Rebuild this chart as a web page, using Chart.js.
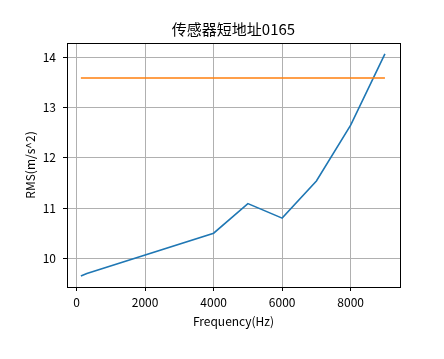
<!DOCTYPE html>
<html lang="zh">
<head>
  <meta charset="UTF-8">
  <title>传感器短地址0165</title>
  <script src="https://cdn.jsdelivr.net/npm/chart.js@4/dist/chart.umd.min.js"></script>
  <style>
    body { margin: 0; background: #fff; }
  </style>
</head>
<body>
<canvas id="rmsChart" width="444" height="359"></canvas>
<script>
  // values
  const freq = [125, 300, 4000, 5000, 6000, 7000, 8000, 9000];
  const rms = [9.65, 9.70, 10.50, 11.09, 10.80, 11.54, 12.65, 14.07];
  const limitFreq = [125, 9000];
  const limitRms = [13.59, 13.59];
  const xTicks = [0, 2000, 4000, 6000, 8000];
  const yTicks = [10, 11, 12, 13, 14];

  const fontFamily = "'Noto Sans CJK SC', 'DejaVu Sans', sans-serif";

  // matplotlib-like box around the plot area
  const frame = {
    id: 'frame',
    afterDatasetsDraw(chart) {
      const a = chart.chartArea;
      const ctx = chart.ctx;
      ctx.save();
      ctx.strokeStyle = '#000';
      ctx.lineWidth = 1;
      ctx.strokeRect(Math.round(a.left) + 0.5, Math.round(a.top) + 0.5,
        Math.round(a.right - a.left), Math.round(a.bottom - a.top));
      ctx.restore();
    }
  };

  new Chart('rmsChart', {
    type: 'line',
    data: {
      datasets: [
        {
          data: freq.map((f, i) => ({ x: f, y: rms[i] })),
          borderColor: '#1f77b4',
          borderWidth: 1.6,
          pointRadius: 0,
          tension: 0,
          order: 2
        },
        {
          data: limitFreq.map((f, i) => ({ x: f, y: limitRms[i] })),
          borderColor: '#ff7f0e',
          borderWidth: 1.6,
          pointRadius: 0,
          order: 1
        }
      ]
    },
    options: {
      responsive: false,
      animation: false,
      layout: { padding: { left: 23, right: 0, top: 0, bottom: 0 } },
      plugins: {
        legend: { display: false },
        tooltip: { enabled: false },
        title: {
          display: true,
          text: '传感器短地址0165',
          color: '#000',
          font: { family: fontFamily, size: 15, weight: 'normal', lineHeight: 1.2 },
          padding: { top: 20, bottom: 5 }
        }
      },
      scales: {
        x: {
          type: 'linear',
          min: -280,
          max: 9440,
          afterFit(scale) { scale.height = 72; },
          afterBuildTicks(scale) { scale.ticks = xTicks.map(v => ({ value: v })); },
          grid: { color: '#b0b0b0', lineWidth: 1, tickColor: '#000', tickLength: 4 },
          border: { display: true, color: '#000', width: 1 },
          ticks: {
            color: '#000',
            padding: 4,
            maxRotation: 0,
            font: { family: fontFamily, size: 12 },
            callback: v => String(v)
          },
          title: {
            display: true,
            text: 'Frequency(Hz)',
            color: '#000',
            font: { family: fontFamily, size: 12, lineHeight: 1.2 },
            padding: { top: 0, bottom: 30 }
          }
        },
        y: {
          type: 'linear',
          min: 9.43,
          max: 14.285,
          afterFit(scale) { scale.width = 44; },
          afterBuildTicks(scale) { scale.ticks = yTicks.map(v => ({ value: v })); },
          grid: { color: '#b0b0b0', lineWidth: 1, tickColor: '#000', tickLength: 4 },
          border: { display: true, color: '#000', width: 1 },
          ticks: {
            color: '#000',
            padding: 7,
            font: { family: fontFamily, size: 12 }
          },
          title: {
            display: true,
            text: 'RMS(m/s^2)',
            color: '#000',
            font: { family: fontFamily, size: 12, lineHeight: 1.2 },
            padding: { top: 0, bottom: 0 }
          }
        },
        // empty right-hand axis: keeps the plot width and centres the title over it
        yRight: {
          type: 'linear',
          position: 'right',
          min: 9.43,
          max: 14.285,
          afterFit(scale) { scale.width = 44; },
          grid: { display: false, drawTicks: false },
          border: { display: false },
          ticks: { display: false }
        }
      }
    },
    plugins: [frame]
  });
</script>
</body>
</html>
